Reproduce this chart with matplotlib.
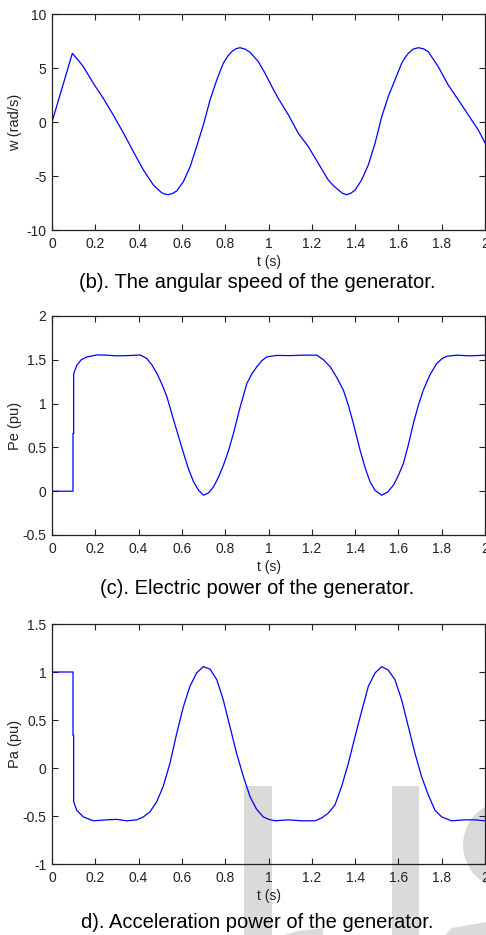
import numpy as np
import matplotlib
matplotlib.use("Agg")
import matplotlib.pyplot as plt
from matplotlib.patches import Rectangle, Ellipse, Polygon

# angular speed w (rad/s)
t_w = [0.0, 0.094, 0.12, 0.145, 0.191, 0.237, 0.283, 0.329, 0.376, 0.422, 0.468,
       0.49, 0.506, 0.522, 0.537, 0.556, 0.576, 0.607, 0.638, 0.668, 0.699, 0.730,
       0.761, 0.791, 0.812, 0.830, 0.850, 0.868, 0.892, 0.915, 0.953, 0.984, 1.015,
       1.045, 1.092, 1.138, 1.184, 1.230, 1.276, 1.30, 1.323, 1.342, 1.361, 1.380,
       1.400, 1.430, 1.461, 1.492, 1.523, 1.553, 1.584, 1.615, 1.632, 1.646, 1.668,
       1.692, 1.715, 1.738, 1.784, 1.830, 1.877, 1.923, 1.969, 2.0]
w = [0.0, 6.36, 5.75, 5.12, 3.58, 2.19, 0.65, -0.99, -2.75, -4.44, -5.83,
     -6.25, -6.54, -6.68, -6.73, -6.62, -6.39, -5.52, -4.14, -2.28, -0.28, 2.04,
     3.89, 5.43, 6.1, 6.51, 6.78, 6.88, 6.75, 6.45, 5.59, 4.51, 3.3,
     2.19, 0.65, -1.05, -2.28, -3.83, -5.37, -5.9, -6.30, -6.6, -6.73, -6.6,
     -6.30, -5.37, -3.98, -1.98, 0.49, 2.35, 3.89, 5.43, 6.0, 6.36, 6.75,
     6.88, 6.78, 6.51, 5.12, 3.43, 2.04, 0.65, -0.74, -1.92]

# electric power Pe (pu)
t_pe = [0.0, 0.097, 0.097, 0.1, 0.1, 0.115, 0.135, 0.162, 0.208, 0.25,
        0.30, 0.35, 0.408, 0.438, 0.462, 0.485, 0.508, 0.531, 0.562, 0.585,
        0.608, 0.631, 0.654, 0.677, 0.70, 0.723, 0.746, 0.769, 0.792, 0.815,
        0.838, 0.869, 0.90, 0.923, 0.946, 0.969, 0.992, 1.038, 1.10, 1.16,
        1.223, 1.254, 1.285, 1.315, 1.346, 1.369, 1.392, 1.423, 1.446, 1.469,
        1.492, 1.523, 1.55, 1.577, 1.60, 1.623, 1.646, 1.669, 1.692, 1.715,
        1.746, 1.777, 1.80, 1.823, 1.87, 1.93, 2.0]
pe = [0.0, 0.0, 0.66, 0.66, 1.34, 1.44, 1.50, 1.533, 1.556, 1.553,
      1.545, 1.548, 1.555, 1.514, 1.44, 1.343, 1.22, 1.077, 0.81, 0.62,
      0.43, 0.25, 0.107, 0.01, -0.046, -0.02, 0.05, 0.16, 0.297, 0.46,
      0.658, 0.96, 1.229, 1.34, 1.42, 1.49, 1.533, 1.55, 1.548, 1.553,
      1.553, 1.50, 1.42, 1.30, 1.153, 0.98, 0.772, 0.468, 0.27, 0.107,
      0.01, -0.046, -0.01, 0.068, 0.18, 0.316, 0.53, 0.772, 0.98, 1.153,
      1.33, 1.457, 1.51, 1.54, 1.553, 1.545, 1.553]

# acceleration power Pa (pu)
t_pa = [0.0, 0.097, 0.097, 0.1, 0.1, 0.114, 0.145, 0.191, 0.252, 0.299,
        0.345, 0.391, 0.422, 0.453, 0.484, 0.514, 0.545, 0.576, 0.607, 0.637,
        0.668, 0.699, 0.730, 0.761, 0.791, 0.822, 0.853, 0.884, 0.915, 0.945,
        0.976, 1.002, 1.03, 1.092, 1.153, 1.215, 1.246, 1.276, 1.307, 1.338,
        1.369, 1.400, 1.430, 1.461, 1.492, 1.523, 1.553, 1.584, 1.615, 1.646,
        1.677, 1.707, 1.738, 1.769, 1.800, 1.846, 1.908, 1.954, 2.0]
pa = [1.0, 1.0, 0.34, 0.34, -0.35, -0.44, -0.51, -0.55, -0.54, -0.535,
      -0.55, -0.54, -0.51, -0.455, -0.35, -0.19, 0.05, 0.36, 0.64, 0.85,
      0.99, 1.056, 1.03, 0.92, 0.71, 0.43, 0.15, -0.09, -0.30, -0.43,
      -0.51, -0.535, -0.55, -0.54, -0.55, -0.55, -0.52, -0.47, -0.385, -0.19,
      0.05, 0.33, 0.59, 0.85, 0.99, 1.056, 1.02, 0.92, 0.71, 0.43,
      0.15, -0.09, -0.28, -0.44, -0.51, -0.55, -0.54, -0.54, -0.55]

xticks = [0, 0.2, 0.4, 0.6, 0.8, 1, 1.2, 1.4, 1.6, 1.8, 2]
xticklabels = ['0', '0.2', '0.4', '0.6', '0.8', '1', '1.2', '1.4', '1.6', '1.8', '2']

W, H = 486, 935
fig = plt.figure(figsize=(W / 100, H / 100), dpi=100)
fig.patch.set_facecolor('white')

narrow = ['Liberation Sans Narrow', 'Liberation Sans', 'DejaVu Sans']
regular = ['Liberation Sans', 'DejaVu Sans']

# light grey watermark behind everything
wm = '#dadada'
for x0, x1 in [(244, 272), (392, 419)]:
    fig.add_artist(Rectangle((x0 / W, 0), (x1 - x0) / W, (H - 786) / H,
                             transform=fig.transFigure, color=wm, lw=0, zorder=-5))
fig.add_artist(Ellipse((507 / W, 1 - 845 / H), 88 / W, 88 / H,
                       transform=fig.transFigure, color=wm, lw=0, zorder=-5))
for pts in [[(284, 935), (298, 931), (323, 928), (323, 935)],
            [(445, 935), (452, 928), (486, 922), (486, 935)]]:
    fig.add_artist(Polygon([(x / W, 1 - y / H) for x, y in pts], closed=True,
                           transform=fig.transFigure, color=wm, lw=0, zorder=-5))


def make_panel(top, bottom, t, y, ylim, yticks, yticklabels, ylabel, caption, cap_y):
    left, right = 52, 485
    ax = fig.add_axes([left / W, 1 - bottom / H, (right - left) / W, (bottom - top) / H])
    ax.set_facecolor('none')
    ax.plot(t, y, color='#0000ff', lw=0.9)
    ax.set_xlim(0, 2)
    ax.set_ylim(*ylim)
    ax.set_xticks(xticks)
    ax.set_xticklabels(xticklabels, family=narrow, fontsize=10)
    ax.set_yticks(yticks)
    ax.set_yticklabels(yticklabels, family=narrow, fontsize=10)
    ax.tick_params(direction='in', length=4, width=0.8, top=True, right=True,
                   colors='#222222', labelcolor='#222222')
    ax.tick_params(axis='x', pad=5)
    ax.tick_params(axis='y', pad=4)
    for s in ax.spines.values():
        s.set_color('#222222')
        s.set_linewidth(0.9)
    h = bottom - top
    ax.set_xlabel('t (s)', family=narrow, fontsize=10, color='#222222')
    ax.xaxis.set_label_coords(0.5, -25 / h)
    ax.set_ylabel(ylabel, family=regular, fontsize=10.5, color='#222222')
    ax.yaxis.set_label_coords(-30 / (right - left), 0.5)
    fig.text(257 / W, 1 - cap_y / H, caption, ha='center', va='center',
             family=regular, fontsize=14.5, color='black')
    return ax


make_panel(14, 230, t_w, w, (-10, 10), [-10, -5, 0, 5, 10],
           ['-10', '-5', '0', '5', '10'], 'w (rad/s)',
           '(b). The angular speed of the generator.', 283)
make_panel(316, 535, t_pe, pe, (-0.5, 2), [-0.5, 0, 0.5, 1, 1.5, 2],
           ['-0.5', '0', '0.5', '1', '1.5', '2'], 'Pe (pu)',
           '(c). Electric power of the generator.', 588)
make_panel(624, 864, t_pa, pa, (-1, 1.5), [-1, -0.5, 0, 0.5, 1, 1.5],
           ['-1', '-0.5', '0', '0.5', '1', '1.5'], 'Pa (pu)',
           'd). Acceleration power of the generator.', 922)

fig.savefig('out.png', dpi=100)
